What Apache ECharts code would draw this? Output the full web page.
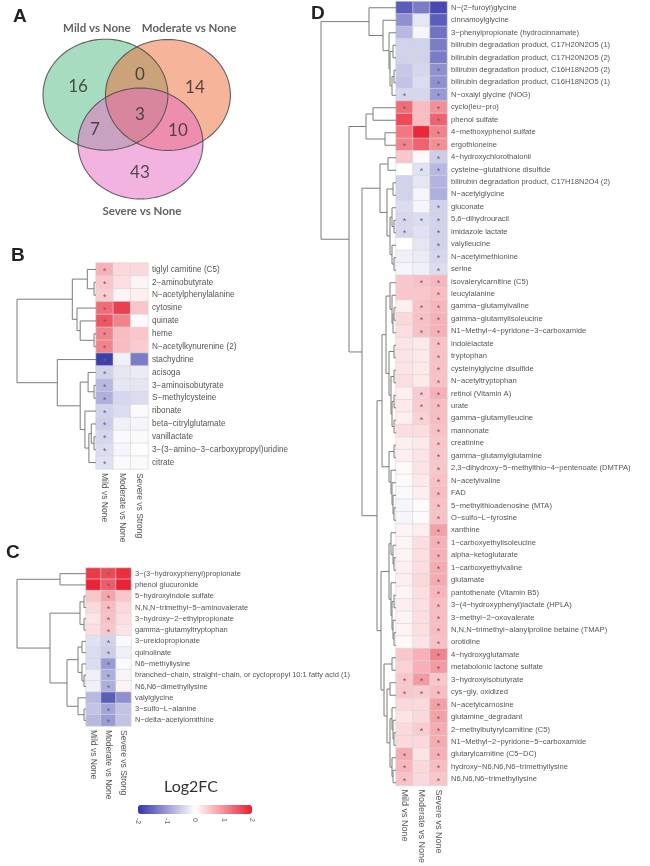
<!DOCTYPE html>
<html><head><meta charset="utf-8">
<script src="https://cdn.jsdelivr.net/npm/echarts@6/dist/echarts.min.js"></script>
<style>html,body{margin:0;padding:0;background:#fff}#c{width:650px;height:866px}</style>
</head><body><div id="c"></div>
<script>
// ---------------- DATA ----------------
const vennNames = ['Mild vs None', 'Moderate vs None', 'Severe vs None'];
// regions: Mild only, Mild&Moderate, Moderate only, all three, Mild&Severe, Moderate&Severe, Severe only
const vennCounts = [16, 0, 14, 3, 7, 10, 43];

const colsB = ['Mild vs None', 'Moderate vs None', 'Severe vs Strong'];
const rowsB = ['tiglyl carnitine (C5)', '2\u2212aminobutyrate', 'N\u2212acetylphenylalanine', 'cytosine', 'quinate', 'heme',
  'N\u2212acetylkynurenine (2)', 'stachydrine', 'acisoga', '3\u2212aminoisobutyrate', 'S\u2212methylcysteine', 'ribonate',
  'beta\u2212citrylglutamate', 'vanillactate', '3\u2212(3\u2212amino\u22123\u2212carboxypropyl)uridine', 'citrate'];
const valsB = [[0.7,0.35,0.35],[0.5,0.3,0.1],[0.45,0.1,0.15],[1.3,1.7,0.5],[1.5,1.1,0.05],[1.1,0.6,0.5],[1.1,0.6,0.45],
  [-1.9,-0.15,-1.3],[-0.45,-0.25,-0.2],[-0.7,-0.25,-0.25],[-0.8,-0.4,-0.35],[-0.45,-0.35,0.05],[-0.5,-0.15,-0.1],
  [-0.4,-0.05,-0.05],[-0.35,-0.1,0.03],[-0.3,-0.05,-0.05]];
const starsB = ['100','100','100','100','100','100','100','100','100','100','100','100','100','100','100','100'];
const treeB = [10, [3.0, [1.1, 0, [0.25, 1, 2]], [2.4, 3, [2.0, 4, [0.25, 5, 6]]]],
  [4.9, 7, [2.0, [1.0, 8, [0.25, 9, 10]], [1.4, 11, [0.9, [0.6, 12, [0.25, 13, 14]], 15]]]]];

const colsC = ['Mild vs None', 'Moderate vs None', 'Severe vs Strong'];
const rowsC = ['3\u2212(3\u2212hydroxyphenyl)propionate', 'phenol glucuronide', '5\u2212hydroxyindole sulfate',
  'N,N,N\u2212trimethyl\u22125\u2212aminovalerate', '3\u2212hydroxy\u22122\u2212ethylpropionate', 'gamma\u2212glutamyltryptophan',
  '3\u2212ureidopropionate', 'quinolinate', 'N6\u2212methyllysine',
  'branched\u2212chain, straight\u2212chain, or cyclopropyl 10:1 fatty acid (1)', 'N6,N6\u2212dimethyllysine',
  'valylglycine', '3\u2212sulfo\u2212L\u2212alanine', 'N\u2212delta\u2212acetylornithine'];
const valsC = [[1.75,1.6,1.85],[1.95,1.45,1.95],[0.5,0.8,0.5],[0.35,0.6,0.35],[0.25,0.55,0.3],[0.3,0.5,0.25],
  [-0.3,-0.45,-0.05],[-0.35,-0.5,-0.15],[-0.35,-1.0,-0.05],[-0.15,-0.8,-0.1],[-0.15,-0.8,0.1],
  [-0.7,-1.6,-1.1],[-0.6,-0.9,-0.6],[-0.7,-1.0,-0.6]];
const starsC = ['010','010','010','010','010','010','010','010','010','010','010','010','010','010'];
const treeC = [69, [26, 0, 1], [36, [6, [2, 2, 3], [2, 4, 5]],
  [19, [8, [4, 6, 7], [4, 8, [2, 9, 10]]], [8, 11, [2, 12, 13]]]]];

const colsD = ['Mild vs None', 'Moderate vs None', 'Severe vs None'];
const rowsD = ['N\u2212(2\u2212furoyl)glycine', 'cinnamoylglycine', '3\u2212phenylpropionate (hydrocinnamate)',
  'bilirubin degradation product, C17H20N2O5 (1)', 'bilirubin degradation product, C17H20N2O5 (2)',
  'bilirubin degradation product, C16H18N2O5 (2)', 'bilirubin degradation product, C16H18N2O5 (1)',
  'N\u2212oxalyl glycine (NOG)', 'cyclo(leu\u2212pro)', 'phenol sulfate', '4\u2212methoxyphenol sulfate', 'ergothioneine',
  '4\u2212hydroxychlorothalonil', 'cysteine\u2212glutathione disulfide', 'bilirubin degradation product, C17H18N2O4 (2)',
  'N\u2212acetylglycine', 'gluconate', '5,6\u2212dihydrouracil', 'imidazole lactate', 'valylleucine', 'N\u2212acetylmethionine',
  'serine', 'isovalerylcarnitine (C5)', 'leucylalanine', 'gamma\u2212glutamylvaline', 'gamma\u2212glutamylisoleucine',
  'N1\u2212Methyl\u22124\u2212pyridone\u22123\u2212carboxamide', 'indolelactate', 'tryptophan', 'cysteinylglycine disulfide',
  'N\u2212acetyltryptophan', 'retinol (Vitamin A)', 'urate', 'gamma\u2212glutamylleucine', 'mannonate', 'creatinine',
  'gamma\u2212glutamylglutamine', '2,3\u2212dihydroxy\u22125\u2212methylthio\u22124\u2212pentenoate (DMTPA)', 'N\u2212acetylvaline',
  'FAD', '5\u2212methylthioadenosine (MTA)', 'O\u2212sulfo\u2212L\u2212tyrosine', 'xanthine', '1\u2212carboxyethylisoleucine',
  'alpha\u2212ketoglutarate', '1\u2212carboxyethylvaline', 'glutamate', 'pantothenate (Vitamin B5)',
  '3\u2212(4\u2212hydroxyphenyl)lactate (HPLA)', '3\u2212methyl\u22122\u2212oxovalerate',
  'N,N,N\u2212trimethyl\u2212alanylproline betaine (TMAP)', 'orotidine', '4\u2212hydroxyglutamate',
  'metabolonic lactone sulfate', '3\u2212hydroxyisobutyrate', 'cys\u2212gly, oxidized', 'N\u2212acetylcarnosine',
  'glutamine_degradant', '2\u2212methylbutyrylcarnitine (C5)', 'N1\u2212Methyl\u22122\u2212pyridone\u22125\u2212carboxamide',
  'glutarylcarnitine (C5\u2212DC)', 'hydroxy\u2212N6,N6,N6\u2212trimethyllysine', 'N6,N6,N6\u2212trimethyllysine'];
const valsD = [[-1.6,-1.3,-1.8],[-1.1,-0.25,-1.6],[-0.7,-0.1,-1.4],[-0.45,-0.45,-1.3],[-0.45,-0.45,-1.3],
  [-0.55,-0.4,-1.1],[-0.6,-0.35,-1.1],[-0.4,-0.4,-1.0],[1.3,0.6,1.0],[1.6,0.6,1.4],[1.2,1.9,1.1],[1.1,1.4,1.0],
  [0.5,0.05,-0.5],[0.02,-0.3,-0.7],[-0.45,-0.25,-0.75],[-0.45,-0.1,-0.8],[-0.35,-0.1,-0.45],[-0.4,-0.35,-0.45],
  [-0.4,-0.3,-0.45],[0.0,-0.25,-0.45],[-0.15,-0.2,-0.4],[-0.1,-0.15,-0.35],[0.5,0.55,0.65],[0.5,0.5,0.6],
  [0.15,0.55,0.65],[0.35,0.55,0.7],[0.3,0.55,0.7],[0.25,0.2,0.55],[0.25,0.2,0.55],[0.25,0.2,0.55],[0.3,0.2,0.55],
  [0.15,0.45,0.7],[0.2,0.45,0.6],[0.15,0.4,0.6],[0.3,0.3,0.55],[0.15,0.2,0.5],[0.15,0.25,0.5],[0.05,0.25,0.5],
  [0.05,0.2,0.55],[-0.05,0.15,0.6],[-0.1,0.05,0.55],[-0.1,0.05,0.55],[0.1,0.15,0.85],[0.1,0.3,0.7],[0.1,0.3,0.7],
  [0.15,0.3,0.75],[0.15,0.35,0.75],[0.1,0.3,0.65],[0.15,0.3,0.6],[0.1,0.3,0.6],[0.1,0.3,0.6],[0.05,0.25,0.55],
  [0.5,0.7,1.1],[0.4,0.7,0.9],[0.5,0.9,0.5],[0.5,0.45,0.6],[0.35,0.35,0.85],[0.25,0.35,0.85],[0.35,0.45,0.75],
  [0.35,0.35,0.75],[0.75,0.25,0.7],[0.65,0.35,0.6],[0.55,0.35,0.5]];
const starsD = ['000','000','000','000','000','001','001','101','101','001','001','101','001','011','000','000',
  '001','111','101','001','001','001','011','001','011','011','011','001','001','001','001','011','011','011',
  '001','001','001','001','001','001','001','001','001','001','001','001','001','001','001','001','001','001',
  '001','001','111','111','001','001','011','001','101','101','101'];
const treeD_T = [27, 0, [13, 1, [7, 2, [6, [3, 3, 4], [4, [2, 5, 6], 7]]]]];
const treeD_R = [30, [23, 8, 9], [11, 10, 11]];
const treeD_W1 = [16, [8, 12, 13], [9, [3, 14, 15], [6, [4, 16, [2, 17, 18]], [4, 19, [2, 20, 21]]]]];
const treeD_P1 = [6, 22, [4, 23, [3, [2, 24, 25], 26]]];
const treeD_P2 = [7, [2, 27, 28], [5, [2, 29, 30], [4, [2, 31, 32], [2, 33, 34]]]];
const treeD_P3 = [7, [2, 35, 36], [5, 37, [4, 38, [3, 39, [2, 40, 41]]]]];
const treeD_P4 = [7, [5, 42, [3, 43, [2, 44, 45]]], [5, 46, [4, [2, 47, 48], [3, 49, [2, 50, 51]]]]];
const treeD_P5 = [12, [4, 52, 53], [9, [6, 54, 55], [6, [4, 56, [3, 57, [2, 58, 59]]], [4, 60, [3, 61, 62]]]]];
const treeD = [75, treeD_T, [47, treeD_R, [34, treeD_W1,
  [19, [14, [10, treeD_P1, treeD_P2], treeD_P3], [15, treeD_P4, treeD_P5]]]]];

const scaleTicks = [-2, -1, 0, 1, 2];

// ---------------- LAYOUT ----------------
const VENN_X_MAX = 231, VENN_Y_MAX = 240;
const VENN_CIRCLES = [[93.7, 94.7, 55.5], [149.2, 95, 55.5], [124.8, 143.5, 55.5]];
const VENN_FILLS = ['#51b981', '#ed6935', '#e567c1'];
const VENN_COUNT_POS = [[69.3, 87], [124.3, 75], [173.2, 88], [124.3, 115], [84.4, 130], [158.1, 131], [124.3, 173]];
const VENN_NAME_POS = [[86.1, 28], [168, 28], [126.1, 211]];

const panels = [
  {rows: rowsB, cols: colsB, vals: valsB, stars: starsB, tree: treeB,
   heat: {left: 96, top: 263, width: 52, height: 206}, dLeft: 17, rowFont: 8.2, colFont: 8.5},
  {rows: rowsC, cols: colsC, vals: valsC, stars: starsC, tree: treeC,
   heat: {left: 86, top: 568, width: 45, height: 158}, dLeft: 17, rowFont: 7.5, colFont: 8.5},
  {rows: rowsD, cols: colsD, vals: valsD, stars: starsD, tree: treeD,
   heat: {left: 396, top: 1.5, width: 51, height: 787.5}, dLeft: 321, rowFont: 7.6, colFont: 9}
];

const FONT = 'Liberation Sans, Arial, sans-serif';
const LINE = '#7c7c7c';

function layoutTree(t, segs) {
  if (typeof t === 'number') return {h: 0, y: t};
  const a = layoutTree(t[1], segs), b = layoutTree(t[2], segs);
  segs.push([a.h, a.y, t[0], b.y, b.h]);
  return {h: t[0], y: (a.y + b.y) / 2};
}

const grids = [], xAxes = [], yAxes = [], series = [], heatIdx = [];
const hidden = {show: false};

// Venn grid (0)
grids.push({left: 0, top: 0, width: 260, height: 240});
xAxes.push({type: 'value', gridIndex: 0, min: 0, max: VENN_X_MAX, show: false});
yAxes.push({type: 'value', gridIndex: 0, min: 0, max: VENN_Y_MAX, inverse: true, show: false});

function ellipsePts(api, cx, cy, r) {
  const pts = [];
  for (let k = 0; k < 120; k++) {
    const a = k / 120 * Math.PI * 2;
    pts.push(api.coord([cx + r * Math.cos(a), cy + r * Math.sin(a)]));
  }
  return pts;
}
series.push({
  type: 'custom', xAxisIndex: 0, yAxisIndex: 0, silent: true, z: 1,
  data: VENN_CIRCLES.map((c, i) => [c[0], c[1], c[2], i]),
  renderItem: (p, api) => ({type: 'polygon',
    shape: {points: ellipsePts(api, api.value(0), api.value(1), api.value(2))},
    style: {fill: VENN_FILLS[api.value(3)], opacity: 0.5, stroke: null}})
});
series.push({
  type: 'custom', xAxisIndex: 0, yAxisIndex: 0, silent: true, z: 2,
  data: VENN_CIRCLES.map((c, i) => [c[0], c[1], c[2], i]),
  renderItem: (p, api) => ({type: 'polygon',
    shape: {points: ellipsePts(api, api.value(0), api.value(1), api.value(2))},
    style: {fill: 'none', stroke: '#4a4a4a', lineWidth: 1.1, opacity: 0.85}})
});
series.push({
  type: 'scatter', xAxisIndex: 0, yAxisIndex: 0, silent: true, symbolSize: 0, z: 3,
  data: vennCounts.map((v, i) => [VENN_COUNT_POS[i][0], VENN_COUNT_POS[i][1], v]),
  label: {show: true, position: 'inside', formatter: p => String(p.data[2]),
    fontFamily: 'Lato, Open Sans, sans-serif', fontSize: 17, color: '#2a2a2a'}
});
series.push({
  type: 'scatter', xAxisIndex: 0, yAxisIndex: 0, silent: true, symbolSize: 0, z: 3,
  data: vennNames.map((n, i) => [VENN_NAME_POS[i][0], VENN_NAME_POS[i][1], n]),
  label: {show: true, position: 'inside', formatter: p => p.data[2],
    fontFamily: 'Lato, Open Sans, sans-serif', fontSize: 11.5, fontWeight: 'bold', color: '#3a3a3a'}
});

// heatmap panels
panels.forEach(pn => {
  const gi = grids.length;
  grids.push(Object.assign({}, pn.heat));
  xAxes.push({type: 'category', gridIndex: gi, data: pn.cols, position: 'bottom',
    axisLine: hidden, axisTick: hidden, splitLine: hidden,
    axisLabel: {rotate: -90, fontSize: pn.colFont, color: '#555', fontFamily: FONT, margin: 4, interval: 0}});
  yAxes.push({type: 'category', gridIndex: gi, data: pn.rows, inverse: true, position: 'right',
    axisLine: hidden, axisTick: hidden, splitLine: hidden,
    axisLabel: {fontSize: pn.rowFont, color: '#555', fontFamily: FONT, margin: 4, interval: 0}});
  const data = [];
  pn.vals.forEach((r, i) => r.forEach((v, j) => data.push([j, i, v, pn.stars[i][j] === '1' ? 1 : 0])));
  heatIdx.push(series.length);
  series.push({type: 'heatmap', xAxisIndex: gi, yAxisIndex: gi, data: data, silent: true,
    itemStyle: {borderColor: '#d6d6d6', borderWidth: 0.6},
    label: {show: true, formatter: p => p.data[3] ? '*' : '', fontSize: 9, color: '#666', offset: [0, 2]},
    emphasis: {disabled: true}});
  // dendrogram grid
  const di = grids.length;
  const segs = [];
  const root = layoutTree(pn.tree, segs);
  grids.push({left: pn.dLeft, top: pn.heat.top, width: pn.heat.left - pn.dLeft, height: pn.heat.height});
  xAxes.push({type: 'value', gridIndex: di, min: 0, max: root.h, inverse: true, show: false});
  yAxes.push({type: 'value', gridIndex: di, min: -0.5, max: pn.rows.length - 0.5, inverse: true, show: false});
  series.push({type: 'custom', xAxisIndex: di, yAxisIndex: di, silent: true, data: segs,
    renderItem: (p, api) => ({type: 'polyline',
      shape: {points: [api.coord([api.value(0), api.value(1)]), api.coord([api.value(2), api.value(1)]),
                       api.coord([api.value(2), api.value(3)]), api.coord([api.value(4), api.value(3)])]},
      style: {stroke: LINE, lineWidth: 1, fill: null}})});
});

// colour-scale tick grid
const CB = {left: 138, top: 805, width: 114, height: 9};
const ci = grids.length;
grids.push({left: CB.left, top: CB.top, width: CB.width, height: CB.height});
xAxes.push({type: 'value', gridIndex: ci, min: scaleTicks[0], max: scaleTicks[scaleTicks.length - 1], interval: 1,
  axisLine: hidden, axisTick: hidden, splitLine: hidden,
  axisLabel: {rotate: -90, fontSize: 7, color: '#666', fontFamily: FONT, margin: 4}});
yAxes.push({type: 'value', gridIndex: ci, show: false});

const chart = echarts.init(document.getElementById('c'), null, {renderer: 'canvas'});
chart.setOption({
  animation: false,
  backgroundColor: '#fff',
  grid: grids, xAxis: xAxes, yAxis: yAxes, series: series,
  visualMap: [{type: 'continuous', min: -2, max: 2, dimension: 2, seriesIndex: heatIdx,
    orient: 'horizontal', left: CB.left, top: CB.top, itemHeight: CB.width, itemWidth: CB.height,
    padding: 0, calculable: false, hoverLink: false, text: null,
    inRange: {color: ['#3236a8', '#ffffff', '#e81e30']}}],
  graphic: [
    {type: 'text', left: 13, top: 7, style: {text: 'A', font: 'bold 19px ' + FONT, fill: '#222'}},
    {type: 'text', left: 11, top: 246, style: {text: 'B', font: 'bold 19px ' + FONT, fill: '#222'}},
    {type: 'text', left: 6, top: 543, style: {text: 'C', font: 'bold 19px ' + FONT, fill: '#222'}},
    {type: 'text', left: 311, top: 4, style: {text: 'D', font: 'bold 19px ' + FONT, fill: '#222'}},
    {type: 'text', left: 164, top: 779, style: {text: 'Log2FC', font: '16px Lato, Open Sans, sans-serif', fill: '#333'}}
  ]
});
</script></body></html>
